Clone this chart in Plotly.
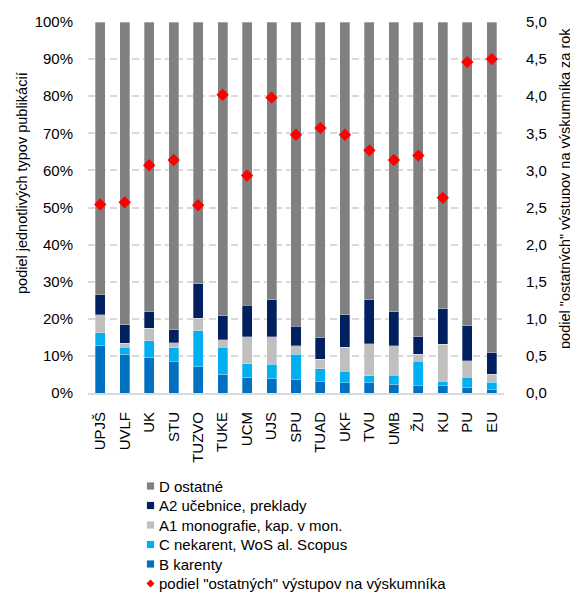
import plotly.graph_objects as go

categories = ["UPJŠ", "UVLF", "UK", "STU", "TUZVO", "TUKE", "UCM", "UJS", "SPU",
              "TUAD", "UKF", "TVU", "UMB", "ŽU", "KU", "PU", "EU"]

# cumulative tops (%), converted to segment shares below
top_B = [12.9, 10.5, 9.7, 8.4, 7.1, 5.0, 4.3, 3.8, 3.6, 3.1, 2.8, 2.8, 2.3, 1.9, 1.9, 1.6, 0.9]
top_C = [16.3, 12.3, 14.1, 12.2, 16.8, 12.4, 7.9, 7.8, 10.4, 6.5, 5.9, 4.6, 4.8, 8.6, 3.2, 4.2, 2.9]
top_A1 = [21.1, 13.4, 17.5, 13.6, 20.2, 14.4, 15.2, 15.1, 12.8, 9.1, 12.3, 13.3, 12.7, 10.5, 13.2, 8.7, 5.1]
top_A2 = [26.5, 18.4, 21.9, 17.0, 29.4, 20.8, 23.6, 25.1, 18.0, 14.9, 21.1, 25.1, 21.9, 15.1, 22.7, 18.1, 10.8]

ratio = [2.54, 2.57, 3.07, 3.14, 2.53, 4.02, 2.93, 3.98, 3.48, 3.57, 3.48, 3.27, 3.14, 3.20, 2.63, 4.46, 4.50]

B = [b / 100 for b in top_B]
C = [(c - b) / 100 for c, b in zip(top_C, top_B)]
A1 = [(a - c) / 100 for a, c in zip(top_A1, top_C)]
A2 = [(a2 - a1) / 100 for a2, a1 in zip(top_A2, top_A1)]
D = [(100 - a2) / 100 for a2 in top_A2]

series_names = ["B karenty", "C nekarent, WoS al. Scopus", "A1 monografie, kap. v mon.",
                "A2 učebnice, preklady", "D ostatné"]
series_values = [B, C, A1, A2, D]
series_colors = ["#0070c0", "#00b0f0", "#bfbfbf", "#002060", "#808080"]
ratio_name = 'podiel "ostatných" výstupov na výskumníka'

left_title = "podiel jednotlivých typov publikácií"
right_title = 'podiel "ostatných" výstupov na výskumníka za rok'

font_family = "Liberation Sans, Arial, sans-serif"

# figure geometry (page has 8px body offset)
W, H = 570, 584
ML, MR, MT, MB = 80, 74, 14, 199
PW, PH = W - ML - MR, H - MT - MB


def px(fx):
    return (fx - ML) / PW


def py(fy):
    return (H - MB - fy) / PH


fig = go.Figure()
for name, vals, color in zip(series_names, series_values, series_colors):
    fig.add_trace(go.Bar(
        x=categories, y=vals, name=name, marker_color=color,
        marker_line=dict(width=0.5, color="rgba(255,255,255,0.6)"),
        showlegend=False,
    ))

fig.add_trace(go.Scatter(
    x=categories, y=ratio, yaxis="y2", mode="markers",
    name=ratio_name,
    marker=dict(symbol="diamond", size=9.5, color="#ff0000"),
    showlegend=False,
))

# custom legend (top to bottom: D, A2, A1, C, B, diamond)
annotations = []
shapes = []
legend_order = list(zip(series_names, series_colors))[::-1]
row0, rstep = 478, 19.5  # figure-pixel y of first row centre
sq_cx, sq_half = 142.5, 3.6
text_x = 149
for i, (name, color) in enumerate(legend_order):
    cy = row0 + i * rstep
    shapes.append(dict(type="rect", xref="paper", yref="paper",
                       x0=px(sq_cx - sq_half), x1=px(sq_cx + sq_half),
                       y0=py(cy + sq_half), y1=py(cy - sq_half),
                       fillcolor=color, line=dict(width=0)))
    annotations.append(dict(text=name, xref="paper", yref="paper",
                            x=px(text_x), y=py(cy), xanchor="left", yanchor="middle",
                            showarrow=False, font=dict(size=15)))
cy = row0 + 5 * rstep
d = 4.0
path = "M {} {} L {} {} L {} {} L {} {} Z".format(
    px(sq_cx - d), py(cy), px(sq_cx), py(cy - d), px(sq_cx + d), py(cy), px(sq_cx), py(cy + d))
shapes.append(dict(type="path", xref="paper", yref="paper", path=path,
                   fillcolor="#ff0000", line=dict(width=0)))
annotations.append(dict(text=ratio_name, xref="paper", yref="paper",
                        x=px(text_x), y=py(cy), xanchor="left", yanchor="middle",
                        showarrow=False, font=dict(size=15)))

# axis titles
annotations.append(dict(text=left_title, xref="paper", yref="paper",
                        x=px(14), y=py(175), textangle=-90,
                        xanchor="center", yanchor="middle", showarrow=False,
                        font=dict(size=14.5)))
annotations.append(dict(text=right_title, xref="paper", yref="paper",
                        x=px(557), y=py(181), textangle=-90,
                        xanchor="center", yanchor="middle", showarrow=False,
                        font=dict(size=14.5)))

fig.update_layout(
    width=W, height=H,
    margin=dict(l=ML, r=MR, t=MT, b=MB, autoexpand=False),
    barmode="stack", bargap=0.59,
    plot_bgcolor="white", paper_bgcolor="white",
    separators=", ",
    font=dict(family=font_family, size=15, color="#000000"),
    showlegend=False,
    annotations=annotations,
    shapes=shapes,
    xaxis=dict(
        range=[-0.5, len(categories) - 0.5],
        tickangle=-90, showgrid=False, automargin=False,
        showline=True, linecolor="#d9d9d9", linewidth=2,
        ticks="outside", ticklen=11, tickcolor="rgba(0,0,0,0)",
        tickfont=dict(size=15),
    ),
    yaxis=dict(
        range=[0, 1], dtick=0.1, tickformat=".0%", automargin=False,
        showgrid=True, gridcolor="#d9d9d9", gridwidth=1.5, griddash="7px,4px",
        zeroline=False,
        ticks="outside", ticklen=11, tickcolor="rgba(0,0,0,0)",
        tickfont=dict(size=15),
    ),
    yaxis2=dict(
        range=[0, 5], dtick=0.5, tickformat=".1f", automargin=False,
        overlaying="y", side="right", showgrid=False, zeroline=False,
        ticks="outside", ticklen=18, tickcolor="rgba(0,0,0,0)",
        tickfont=dict(size=15),
    ),
)

fig.write_html("out.html")
